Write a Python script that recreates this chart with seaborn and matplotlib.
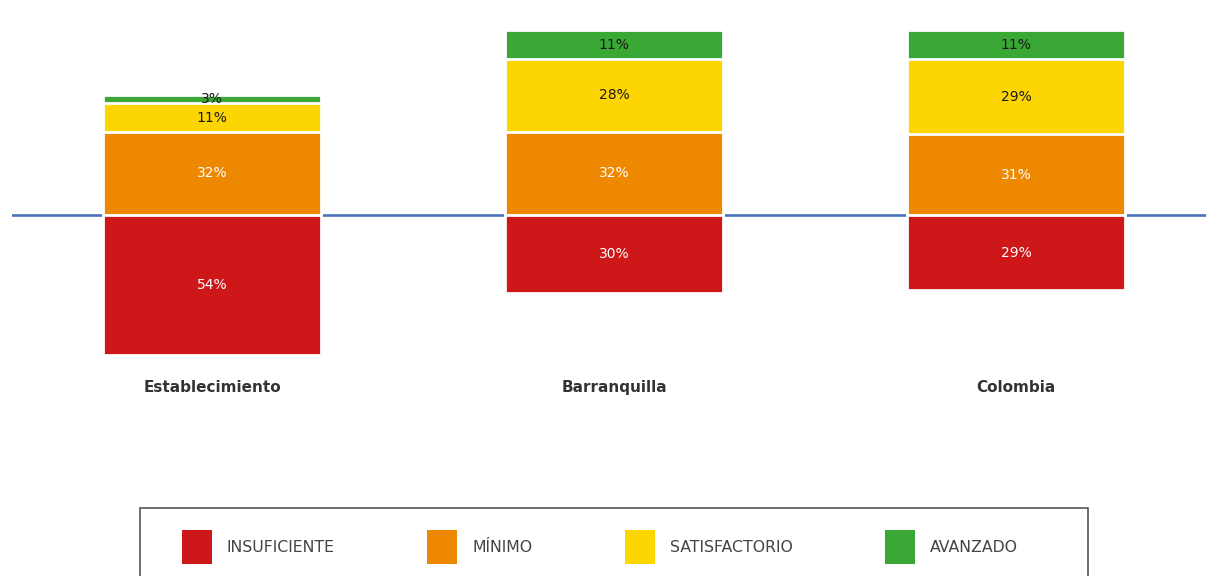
import matplotlib
matplotlib.use("Agg")
import matplotlib.pyplot as plt
from matplotlib.patches import Patch, Rectangle
import seaborn as sns
import pandas as pd

# Performance levels by group (percent of students)
groups = ["Establecimiento", "Barranquilla", "Colombia"]
insuficiente = [54, 30, 29]
minimo = [32, 32, 31]
satisfactorio = [11, 28, 29]
avanzado = [3, 11, 11]
level_names = ["INSUFICIENTE", "MÍNIMO", "SATISFACTORIO", "AVANZADO"]

colors = {
    "INSUFICIENTE": "#CD1719",
    "MÍNIMO": "#EE8800",
    "SATISFACTORIO": "#FDD500",
    "AVANZADO": "#3AA835",
}

sns.set_theme(style="white")
plt.rcParams["font.family"] = ["DejaVu Sans"]

W, H = 1206, 576
fig = plt.figure(figsize=(W / 100, H / 100), dpi=100)
ax = fig.add_axes([12 / W, 1 - 365 / H, 1194 / W, 360 / H])

df = pd.DataFrame({
    "group": groups,
    "ins": [-v for v in insuficiente],
    "min": minimo,
    "sat": [a + b for a, b in zip(minimo, satisfactorio)],
    "ava": [a + b + c for a, b, c in zip(minimo, satisfactorio, avanzado)],
})

# baseline
ax.axhline(0, color="#4A72BC", lw=1.9, zorder=1)

bar_kw = dict(width=0.542, edgecolor="white", linewidth=2.0, saturation=1, zorder=3)
# stacked upward from the baseline: draw cumulative totals, tallest first
sns.barplot(data=df, x="group", y="ava", color=colors["AVANZADO"], ax=ax, **bar_kw)
sns.barplot(data=df, x="group", y="sat", color=colors["SATISFACTORIO"], ax=ax, **bar_kw)
sns.barplot(data=df, x="group", y="min", color=colors["MÍNIMO"], ax=ax, **bar_kw)
sns.barplot(data=df, x="group", y="ins", color=colors["INSUFICIENTE"], ax=ax, **bar_kw)

# value labels at segment centres
lab_kw = dict(ha="center", va="center", fontsize=10, zorder=5)
for i in range(len(groups)):
    ax.text(i, -insuficiente[i] / 2, f"{insuficiente[i]}%", color="white", **lab_kw)
    ax.text(i, minimo[i] / 2, f"{minimo[i]}%", color="white", **lab_kw)
    ax.text(i, minimo[i] + satisfactorio[i] / 2, f"{satisfactorio[i]}%", color="#1a1a1a", **lab_kw)
    ax.text(i, minimo[i] + satisfactorio[i] + avanzado[i] / 2, f"{avanzado[i]}%",
            color="#1a1a1a", **lab_kw)

ax.set_xlim(-0.4975, -0.4975 + 1194 / 402)
ax.set_ylim(-150 / 2.6, 210 / 2.6)
ax.set_xlabel("")
ax.set_ylabel("")
ax.set_yticks([])
ax.set_xticks(range(len(groups)))
ax.set_xticklabels(groups, fontsize=11, fontweight="bold", color="#333333")
ax.tick_params(axis="x", length=0, pad=11)
for s in ax.spines.values():
    s.set_visible(False)
ax.patch.set_alpha(0)

# legend with a plain frame running off the bottom edge
fig.add_artist(Rectangle((140 / W, 1 - 586 / H), 948 / W, 78 / H,
                         transform=fig.transFigure, fill=False,
                         edgecolor="#555555", lw=1.2))
handles = [Patch(facecolor=colors[n], edgecolor="none") for n in level_names]
fig.legend(handles, level_names, loc="center left",
           bbox_to_anchor=(182 / W, 1 - 547 / H), ncol=4, frameon=False,
           fontsize=11.3, handlelength=1.91, handleheight=2.86,
           handletextpad=0.95, columnspacing=5.9, borderpad=0, borderaxespad=0,
           labelcolor="#444444")

fig.savefig("out.png", dpi=100)
